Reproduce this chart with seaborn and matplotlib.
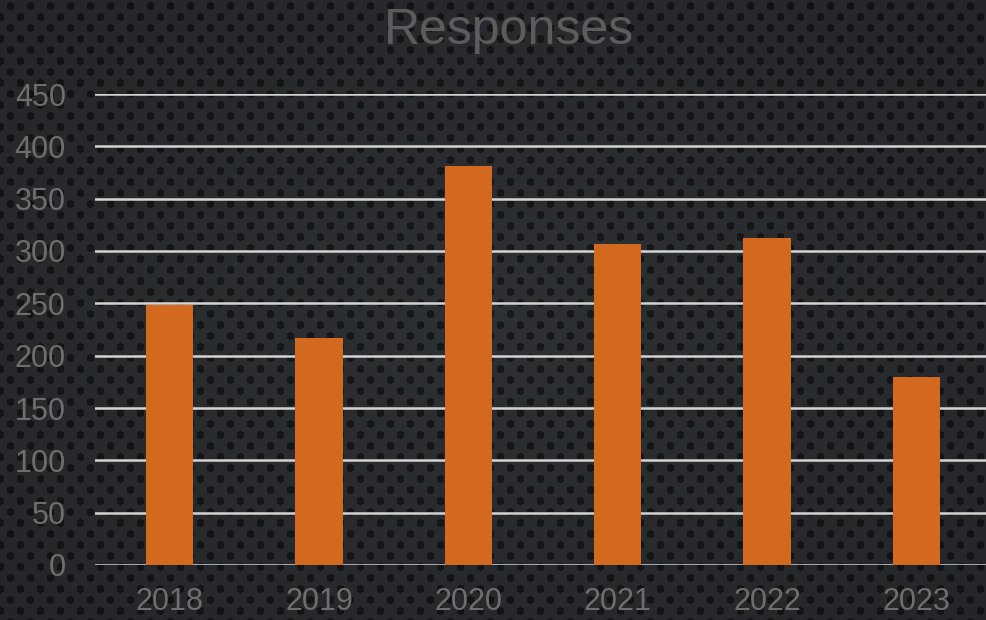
import numpy as np
import pandas as pd
import matplotlib
matplotlib.use("Agg")
import matplotlib.pyplot as plt
import seaborn as sns

# chart values
years = ["2018", "2019", "2020", "2021", "2022", "2023"]
responses = [248, 217, 381, 307, 312, 180]
y_ticks = [0, 50, 100, 150, 200, 250, 300, 350, 400, 450]

df = pd.DataFrame({"year": years, "responses": responses})

sns.set_theme(style="dark")
plt.rcParams['font.family'] = ['Liberation Sans', 'DejaVu Sans']

W, H = 987, 620
fig = plt.figure(figsize=(W / 100, H / 100), dpi=100)

# perforated metal background (decoration only)
yy, xx = np.mgrid[0:H, 0:W]
cx, cy = W / 2, H / 2
r = np.sqrt(((xx - cx) / W) ** 2 + ((yy - cy) / H) ** 2)
base = 0.19 - 0.06 * r
row = np.floor(yy / 11.0)
xs = (xx + (row % 2) * 10) % 20 - 10
ys = yy % 11 - 5.5
dot = (xs ** 2 + ys ** 2) < 16
img = np.where(dot, base * 0.5, base)
rgb = np.stack([img * 0.95, img * 1.0, img * 1.08], axis=-1).clip(0, 1)
bg = fig.add_axes([0, 0, 1, 1])
bg.imshow(rgb, aspect="auto", interpolation="nearest")
bg.axis("off")

ax = fig.add_axes([95 / W, (H - 565) / H, (991 - 95) / W, (565 - 94) / H])
ax.patch.set_alpha(0)
sns.barplot(data=df, x="year", y="responses", color="#d2691e", width=0.315,
            saturation=1, edgecolor="none", linewidth=0, ax=ax, zorder=3)

ax.set_ylim(0, 450)
ax.set_xlim(-0.5, 5.5)
ax.set_yticks(y_ticks)
ax.grid(axis="y", color="#d4d4d4", linewidth=1.8, zorder=1)
ax.grid(axis="x", visible=False)
ax.set_axisbelow(True)
for s in ax.spines.values():
    s.set_visible(False)
ax.set_xlabel("")
ax.set_ylabel("")
ax.tick_params(axis="y", length=0, pad=21, labelsize=22, labelcolor="#6e6e6e")
ax.tick_params(axis="x", length=0, pad=16, labelsize=22, labelcolor="#6e6e6e")

fig.text(509 / W, 1 - 31 / H, "Responses", ha="center", va="center",
         fontsize=36, color="#5c5c5c")

fig.savefig("out.png", dpi=100)
